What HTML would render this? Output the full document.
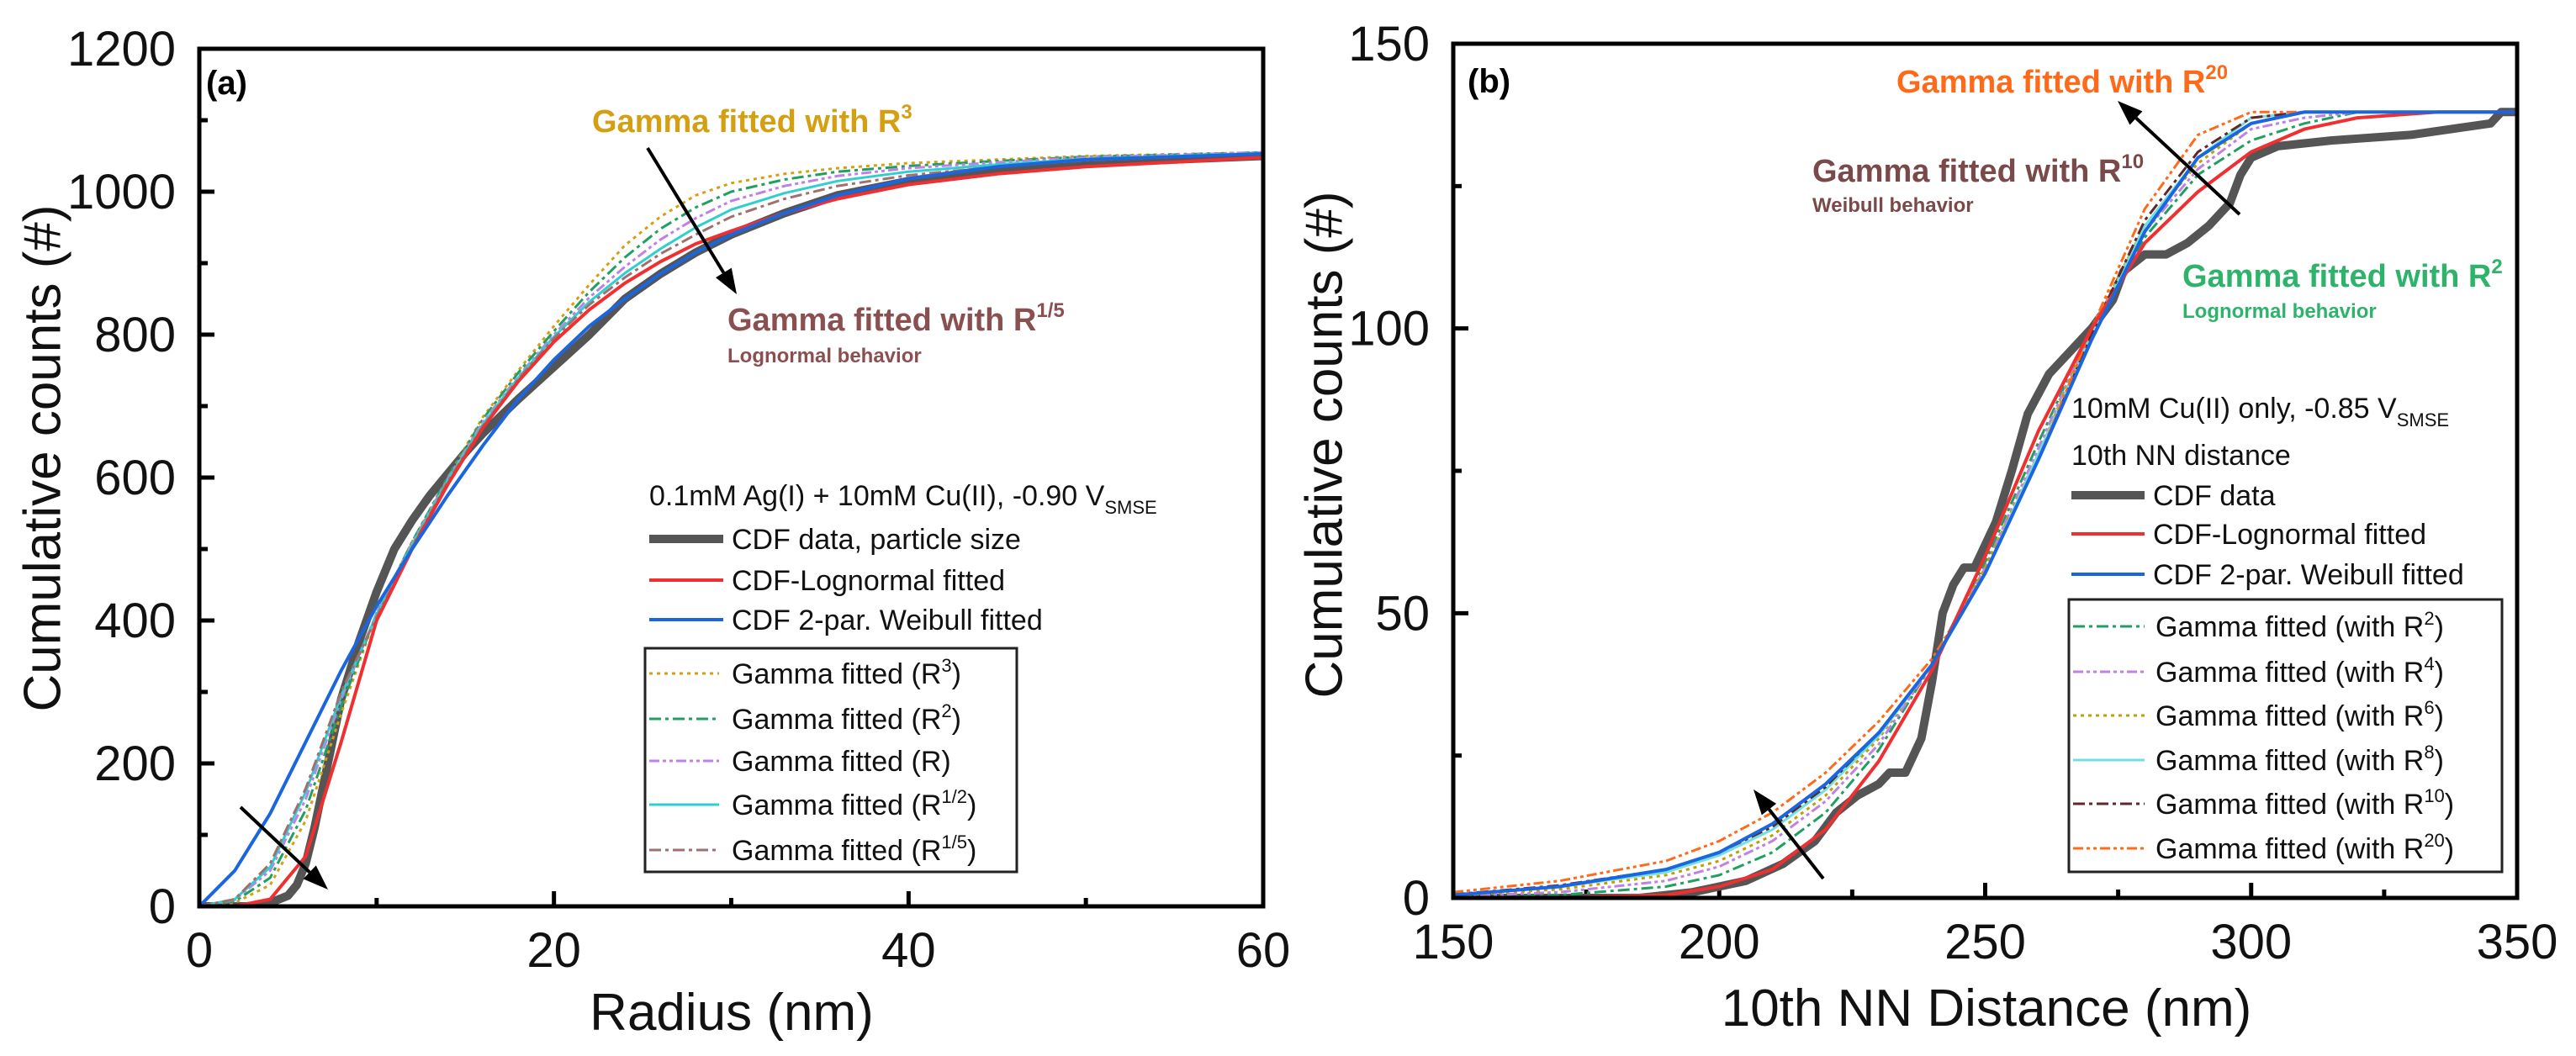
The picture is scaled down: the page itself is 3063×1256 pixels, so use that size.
<!DOCTYPE html>
<html><head><meta charset="utf-8">
<style>
html,body{margin:0;padding:0;background:#fff;}
svg{display:block;font-family:"Liberation Sans",Arial,sans-serif;}
</style></head>
<body>
<svg id="fig" width="3063" height="1256" viewBox="0 0 3063 1256" xmlns="http://www.w3.org/2000/svg">
  <g id="pa"></g>
  <g id="pb"></g>

  <text x="245" y="112" font-size="40" font-weight="bold">(a)</text>
  <text x="704" y="157" font-size="38" font-weight="bold" fill="#d4a012">Gamma fitted with R<tspan font-size="24" dy="-16">3</tspan></text>
  <text x="865" y="393" font-size="38" font-weight="bold" fill="#8a5050">Gamma fitted with R<tspan font-size="24" dy="-16">1/5</tspan></text>
  <text x="865" y="431" font-size="24" font-weight="bold" fill="#8a5050">Lognormal behavior</text>
  <text x="772" y="601" font-size="34" fill="#111">0.1mM Ag(I) + 10mM Cu(II),  -0.90 V<tspan font-size="22" dy="10">SMSE</tspan></text>
  <text x="51" y="545" font-size="62" fill="#111" text-anchor="middle" transform="rotate(-90 51 545)" dominant-baseline="central">Cumulative counts (#)</text>
  <text x="870" y="1225" font-size="62" fill="#111" text-anchor="middle">Radius (nm)</text>

  <text x="1745" y="110" font-size="40" font-weight="bold">(b)</text>
  <text x="2255" y="110" font-size="38" font-weight="bold" fill="#ff6a1a">Gamma fitted with R<tspan font-size="24" dy="-16">20</tspan></text>
  <text x="2155" y="216" font-size="38" font-weight="bold" fill="#7a4a4a">Gamma fitted with R<tspan font-size="24" dy="-16">10</tspan></text>
  <text x="2155" y="252" font-size="24" font-weight="bold" fill="#7a4a4a">Weibull behavior</text>
  <text x="2595" y="341" font-size="38" font-weight="bold" fill="#2db36a">Gamma fitted with R<tspan font-size="24" dy="-16">2</tspan></text>
  <text x="2595" y="378" font-size="24" font-weight="bold" fill="#2db36a">Lognormal behavior</text>
  <text x="2463" y="497" font-size="34" fill="#111">10mM Cu(II) only,  -0.85 V<tspan font-size="22" dy="10">SMSE</tspan></text>
  <text x="2463" y="553" font-size="34" fill="#111">10th NN distance</text>
  <text x="1575" y="529" font-size="62" fill="#111" text-anchor="middle" transform="rotate(-90 1575 529)" dominant-baseline="central">Cumulative counts (#)</text>
  <text x="2362" y="1220" font-size="62" fill="#111" text-anchor="middle">10th NN Distance (nm)</text>
</svg>
<script>
// ---------- Panel a data ----------
const aX = [0,2,4,6,8,10,12,14,16,18,20,22,24,26,28,30,33,36,40,45,50,60];
const aLogn = [0,0,10,70,230,400,500,590,670,735,790,835,872,902,927,945,970,990,1010,1025,1035,1048];
const aWeib = [0,50,130,230,330,420,500,575,645,710,765,812,850,885,915,940,970,995,1018,1035,1045,1053];
const aDataX = [0,3,4,5,5.5,6,6.5,7,7.5,8,9,10,11,12,13,14,15,16,18,20,22,24,26,27,28,30,33,36,40,45,50,60];
const aDataY = [0,0,5,15,30,60,110,170,230,290,370,440,500,540,575,605,635,662,710,755,800,850,885,900,915,940,970,995,1015,1032,1040,1050];
const aR3 = [0,5,30,120,270,410,510,600,685,750,812,870,925,965,995,1012,1025,1033,1040,1045,1050,1055];
const aR2 = [0,7,40,135,280,410,510,600,682,747,805,860,908,948,978,1000,1017,1028,1036,1043,1049,1055];
const aR1 = [0,9,50,150,290,410,508,598,678,742,800,852,895,933,963,987,1008,1022,1033,1041,1048,1055];
const aRh = [0,10,55,160,295,408,506,596,675,740,797,846,886,920,950,975,998,1015,1028,1038,1046,1054];
const aR5 = [0,10,60,165,300,405,503,594,672,738,795,842,880,913,940,965,990,1008,1023,1035,1044,1053];
const aXTicks = [0,20,40,60];
const aXMinor = [10,30,50];
const aYTicks = [0,200,400,600,800,1000,1200];
const aYMinor = [100,300,500,700,900,1100];

// ---------- Panel b data ----------
const bX = [150,170,190,200,210,220,230,240,250,260,270,280,290,300,310,320,335,350];
const bLogn = [0,0,0.5,2,5,12,24,40,60,82,100,115,124,131,135,137,138,138];
const bWeib = [0.5,2,5,8,13,20,29,41,57,77,98,117,130,136,138,138,138,138];
const bDataX = [150,185,195,205,212,218,222,226,230,232,235,238,240,242,244,246,248,252,255,258,262,266,270,274,276,280,284,288,292,296,298,300,305,315,330,345,347,350];
const bDataY = [0,0,1,3,6,10,15,18,20,22,22,28,38,50,55,58,58,66,75,85,92,96,100,105,110,113,113,115,118,122,127,130,132,133,134,136,138,138];
const bR2 = [0,0.5,2,4,8,15,26,41,59,80,100,116,127,133,136,138,138,138];
const bR4 = [0.3,1,3,5.5,10,17,27,41,58,79,100,117,128,135,137,138,138,138];
const bR6 = [0.4,1.5,4,6.5,11,18,28,41,58,78,100,118,129,136,138,138,138,138];
const bR8 = [0.5,2,4.5,7.5,12,19,28.5,41,57,78,99,118,130,137,138,138,138,138];
const bR10 = [0.6,2.2,5,8,12.5,19.5,29,41,57,77,99,119,131,137,138,138,138,138];
const bR20 = [1,3,6.5,10,15,22,31,42,57,77,100,121,134,138,138,138,138,138];
const bXTicks = [150,200,250,300,350];
const bXMinor = [175,225,275,325];
const bYTicks = [0,50,100,150];
const bYMinor = [25,75,125];

const NS = "http://www.w3.org/2000/svg";
function mk(parent, tag, attrs) {
  const e = document.createElementNS(NS, tag);
  for (const k in attrs) e.setAttribute(k, attrs[k]);
  parent.appendChild(e);
  return e;
}
function makeScale(d0, d1, r0, r1) { return v => r0 + (v - d0) * (r1 - r0) / (d1 - d0); }
function linePath(xs, ys, sx, sy) {
  return xs.map((x, i) => (i ? "L" : "M") + sx(x).toFixed(1) + "," + sy(ys[i]).toFixed(1)).join(" ");
}

function drawAxes(g, box, sx, sy, xt, xm, yt, ym, prefix) {
  const clip = mk(g, "clipPath", {id: prefix + "-clip"});
  mk(clip, "rect", {x: box.l, y: box.t, width: box.r - box.l, height: box.b - box.t});
  for (const v of xt) {
    const t = mk(g, "line", {x1: sx(v), x2: sx(v), y1: box.b, y2: box.b - 18, stroke: "#000", "stroke-width": 5});
    
    
    const lb = mk(g, "text", {x: sx(v), y: box.b + 72, "font-size": 58, "text-anchor": "middle", fill: "#111"});
    lb.textContent = v;
    
    
  }
  for (const v of xm) {
    const t = mk(g, "line", {x1: sx(v), x2: sx(v), y1: box.b, y2: box.b - 10, stroke: "#000", "stroke-width": 5});
    
    
  }
  for (const v of yt) {
    const t = mk(g, "line", {x1: box.l, x2: box.l + 18, y1: sy(v), y2: sy(v), stroke: "#000", "stroke-width": 5});
    
    
    const lb = mk(g, "text", {x: box.l - 28, y: sy(v) + 20, "font-size": 58, "text-anchor": "end", fill: "#111"});
    lb.textContent = v;
    
    
  }
  for (const v of ym) {
    const t = mk(g, "line", {x1: box.l, x2: box.l + 10, y1: sy(v), y2: sy(v), stroke: "#000", "stroke-width": 5});
    
    
  }
}

function drawSeries(g, xs, ys, sx, sy, style, name, clipId) {
  const p = mk(g, "path", {d: linePath(xs, ys, sx, sy), fill: "none", stroke: style.c, "stroke-width": style.w,
    "stroke-dasharray": style.d || "none", "stroke-linejoin": "round", "clip-path": "url(#" + clipId + ")"});
  
  
}

function drawFrame(g, box, prefix) {
  const r = mk(g, "rect", {x: box.l, y: box.t, width: box.r - box.l, height: box.b - box.t, fill: "none", stroke: "#000", "stroke-width": 5});
  
  
}

function arrow(g, x1, y1, x2, y2, name) {
  const ang = Math.atan2(y2 - y1, x2 - x1);
  const L = 30, W = 11;
  const bx = x2 - L * Math.cos(ang), by = y2 - L * Math.sin(ang);
  const ln = mk(g, "line", {x1: x1, y1: y1, x2: bx, y2: by, stroke: "#000", "stroke-width": 4});
  
  
  const px = -Math.sin(ang) * W, py = Math.cos(ang) * W;
  const hd = mk(g, "polygon", {points: `${x2},${y2} ${bx+px},${by+py} ${bx-px},${by-py}`, fill: "#000"});
  
  
}

function legendEntry(g, x1, x2, tx, y, style, label, sup, name) {
  const ln = mk(g, "line", {x1: x1, x2: x2, y1: y, y2: y, stroke: style.c, "stroke-width": style.w, "stroke-dasharray": style.d || "none"});
  
  
  const t = mk(g, "text", {x: tx, y: y + 12, "font-size": 34, fill: "#111"});
  
  
  t.appendChild(document.createTextNode(label));
  if (sup !== null) {
    const s = mk(t, "tspan", {"font-size": 22, dy: -14});
    s.textContent = sup;
    const c = mk(t, "tspan", {"font-size": 34, dy: 14});
    c.textContent = ")";
  }
}

// ---------- Panel a ----------
const ga = document.getElementById("pa");
const boxA = {l: 237, r: 1502, t: 58, b: 1078};
const sxA = makeScale(0, 60, boxA.l, boxA.r);
const syA = makeScale(0, 1200, boxA.b, boxA.t);
drawAxes(ga, boxA, sxA, syA, aXTicks, aXMinor, aYTicks, aYMinor, "a");
const stA = {
  r3: {c: "#d4a012", w: 3, d: "4 5"},
  r2: {c: "#20a060", w: 3, d: "14 5 4 5"},
  r1: {c: "#c080e8", w: 3, d: "12 4 4 4 4 4"},
  rh: {c: "#30cfcf", w: 3},
  r5: {c: "#a07070", w: 3, d: "14 5 4 5"},
  data: {c: "#555", w: 10},
  logn: {c: "#f03030", w: 4},
  weib: {c: "#1a66e0", w: 4}
};
drawSeries(ga, aDataX, aDataY, sxA, syA, stA.data, "series-a-cdf-data", "a-clip");
drawSeries(ga, aX, aR3, sxA, syA, stA.r3, "series-a-gamma-r3", "a-clip");
drawSeries(ga, aX, aR2, sxA, syA, stA.r2, "series-a-gamma-r2", "a-clip");
drawSeries(ga, aX, aR1, sxA, syA, stA.r1, "series-a-gamma-r", "a-clip");
drawSeries(ga, aX, aRh, sxA, syA, stA.rh, "series-a-gamma-r12", "a-clip");
drawSeries(ga, aX, aR5, sxA, syA, stA.r5, "series-a-gamma-r15", "a-clip");
drawSeries(ga, aX, aLogn, sxA, syA, stA.logn, "series-a-lognormal", "a-clip");
drawSeries(ga, aX, aWeib, sxA, syA, stA.weib, "series-a-weibull", "a-clip");
drawFrame(ga, boxA, "a");
arrow(ga, 770, 176, 876, 350, "arrow-a-top");
arrow(ga, 286, 960, 390, 1058, "arrow-a-bottom");
legendEntry(ga, 772, 860, 870, 641, stA.data, "CDF data, particle size", null, "legend-a-cdf-data");
legendEntry(ga, 772, 860, 870, 690, stA.logn, "CDF-Lognormal fitted", null, "legend-a-lognormal");
legendEntry(ga, 772, 860, 870, 737, stA.weib, "CDF 2-par. Weibull fitted", null, "legend-a-weibull");
{
  const bx = mk(ga, "rect", {x: 767, y: 771, width: 442, height: 266, fill: "#fff", stroke: "#222", "stroke-width": 3});
  
  
}
legendEntry(ga, 772, 855, 870, 801, stA.r3, "Gamma fitted (R", "3", "legend-a-gamma-r3");
legendEntry(ga, 772, 855, 870, 855, stA.r2, "Gamma fitted (R", "2", "legend-a-gamma-r2");
legendEntry(ga, 772, 855, 870, 905, stA.r1, "Gamma fitted (R)", null, "legend-a-gamma-r");
legendEntry(ga, 772, 855, 870, 957, stA.rh, "Gamma fitted (R", "1/2", "legend-a-gamma-r12");
legendEntry(ga, 772, 855, 870, 1011, stA.r5, "Gamma fitted (R", "1/5", "legend-a-gamma-r15");

// ---------- Panel b ----------
const gb = document.getElementById("pb");
const boxB = {l: 1728, r: 2993, t: 52, b: 1068};
const sxB = makeScale(150, 350, boxB.l, boxB.r);
const syB = makeScale(0, 150, boxB.b, boxB.t);
drawAxes(gb, boxB, sxB, syB, bXTicks, bXMinor, bYTicks, bYMinor, "b");
const stB = {
  r2: {c: "#20a060", w: 3, d: "14 5 4 5"},
  r4: {c: "#c080e8", w: 3, d: "12 4 4 4 4 4"},
  r6: {c: "#c0a000", w: 3, d: "4 5"},
  r8: {c: "#70e0e0", w: 3},
  r10: {c: "#602828", w: 3, d: "14 5 4 5"},
  r20: {c: "#ff6a1a", w: 3, d: "12 4 4 4 4 4"},
  data: {c: "#555", w: 10},
  logn: {c: "#f03030", w: 4},
  weib: {c: "#1a66e0", w: 4}
};
drawSeries(gb, bDataX, bDataY, sxB, syB, stB.data, "series-b-cdf-data", "b-clip");
drawSeries(gb, bX, bR2, sxB, syB, stB.r2, "series-b-gamma-r2", "b-clip");
drawSeries(gb, bX, bR4, sxB, syB, stB.r4, "series-b-gamma-r4", "b-clip");
drawSeries(gb, bX, bR6, sxB, syB, stB.r6, "series-b-gamma-r6", "b-clip");
drawSeries(gb, bX, bR8, sxB, syB, stB.r8, "series-b-gamma-r8", "b-clip");
drawSeries(gb, bX, bR10, sxB, syB, stB.r10, "series-b-gamma-r10", "b-clip");
drawSeries(gb, bX, bR20, sxB, syB, stB.r20, "series-b-gamma-r20", "b-clip");
drawSeries(gb, bX, bLogn, sxB, syB, stB.logn, "series-b-lognormal", "b-clip");
drawSeries(gb, bX, bWeib, sxB, syB, stB.weib, "series-b-weibull", "b-clip");
drawFrame(gb, boxB, "b");
arrow(gb, 2663, 255, 2518, 120, "arrow-b-top");
arrow(gb, 2168, 1045, 2085, 939, "arrow-b-bottom");
legendEntry(gb, 2463, 2550, 2560, 589, stB.data, "CDF data", null, "legend-b-cdf-data");
legendEntry(gb, 2463, 2550, 2560, 635, stB.logn, "CDF-Lognormal fitted", null, "legend-b-lognormal");
legendEntry(gb, 2463, 2550, 2560, 683, stB.weib, "CDF 2-par. Weibull fitted", null, "legend-b-weibull");
{
  const bx = mk(gb, "rect", {x: 2460, y: 713, width: 515, height: 324, fill: "#fff", stroke: "#222", "stroke-width": 3});
  
  
}
legendEntry(gb, 2465, 2550, 2563, 745, stB.r2, "Gamma fitted (with R", "2", "legend-b-gamma-r2");
legendEntry(gb, 2465, 2550, 2563, 799, stB.r4, "Gamma fitted (with R", "4", "legend-b-gamma-r4");
legendEntry(gb, 2465, 2550, 2563, 851, stB.r6, "Gamma fitted (with R", "6", "legend-b-gamma-r6");
legendEntry(gb, 2465, 2550, 2563, 904, stB.r8, "Gamma fitted (with R", "8", "legend-b-gamma-r8");
legendEntry(gb, 2465, 2550, 2563, 956, stB.r10, "Gamma fitted (with R", "10", "legend-b-gamma-r10");
legendEntry(gb, 2465, 2550, 2563, 1009, stB.r20, "Gamma fitted (with R", "20", "legend-b-gamma-r20");
</script>
</body></html>
